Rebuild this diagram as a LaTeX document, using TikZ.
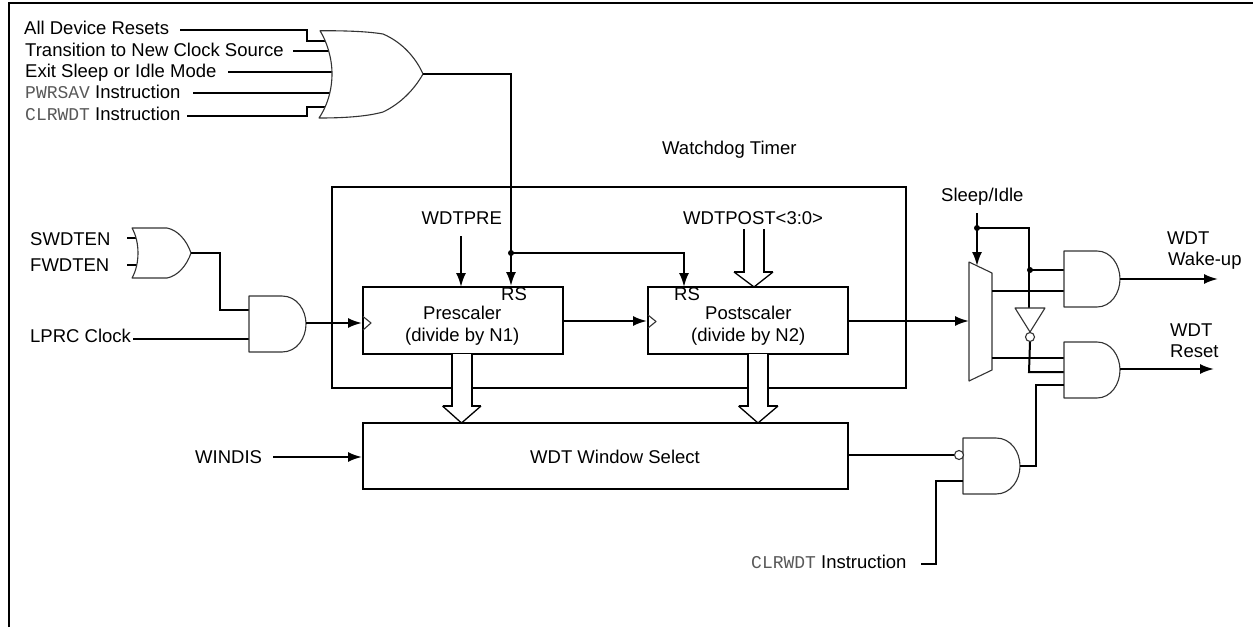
\documentclass[tikz,border=0pt]{standalone}
\usepackage{fontspec}
\setmainfont{Liberation Sans}
\setmonofont{Liberation Mono}
\usetikzlibrary{arrows.meta}
\definecolor{monogray}{gray}{0.35}
\definecolor{gateline}{gray}{0.2}
\newcommand{\cmdtext}[1]{{\fontsize{18}{20}\selectfont\ttfamily\color{monogray}#1}}
\tikzset{
  wire/.style={line width=2pt,line join=miter},
  arrowwire/.style={wire,-{Latex[length=14pt,width=10pt]}},
  box/.style={draw,line width=2pt,inner sep=0pt,minimum width=200pt,minimum height=67pt},
  gate/.style={draw=gateline,line width=1.1pt,fill=white,line join=round},
  bubble/.style={circle,draw=gateline,line width=1.1pt,fill=white,inner sep=0pt,minimum size=9pt},
  lab/.style={anchor=base west,inner sep=0pt,font=\fontsize{18.5}{20}\selectfont},
  dot/.style={circle,fill,inner sep=0pt,minimum size=6pt}
}
\newcommand{\andgate}[4]{%
  \path[gate] (#1,#2) -- ({#1+33},#2) .. controls ({#4-9},#2) and (#4,{#2+14}) .. (#4,{(#2+#3)/2})
     .. controls (#4,{#3-14}) and ({#4-9},#3) .. ({#1+33},#3) -- (#1,#3) -- cycle;}
% wide arrow: left shaft x, right shaft x, head left, tip x, head right, top y, head y, tip y
\newcommand{\widearrow}[8]{%
  \fill[white] (#1,#6) -- (#1,#7) -- (#3,#7) -- (#4,#8) -- (#5,#7) -- (#2,#7) -- (#2,#6) -- cycle;
  \draw[wire] (#1,#6) -- (#1,#7) -- (#3,#7);
  \draw[wire] (#2,#6) -- (#2,#7) -- (#5,#7);
  \draw[line width=1.3pt] (#3,#7) -- (#4,#8) -- (#5,#7);}
\begin{document}
\begin{tikzpicture}[x=1pt,y=-1pt]
\useasboundingbox (0,0) rectangle (1253,627);
\fill[white] (0,0) rectangle (1253,627);
% frame
\coordinate (fbl) at (9,627); \coordinate (ftl) at (9,3); \coordinate (ftr) at (1253,3);
\draw[wire] (fbl) -- (ftl) -- (ftr);

% boxes
\node[box,minimum width=574pt,minimum height=200.5pt] (wdt) at (619,287.5) {};
\node[box] (pre) at (463,320.5) {};
\node[box] (post) at (748,320.5) {};
\node[box,minimum width=485pt,minimum height=66pt] (win) at (605.5,456) {};

% labels
\node[lab] (l1) at (24,34) {All Device Resets};
\node[lab] (l2) at (25,56) {Transition to New Clock Source};
\node[lab] (l3) at (25,77) {Exit Sleep or Idle Mode};
\node[lab] (l4) at (25,98.5) {\cmdtext{PWRSAV} Instruction};
\node[lab] (l5) at (25,120) {\cmdtext{CLRWDT} Instruction};
\node[lab] (wt) at (662,154) {Watchdog Timer};
\node[lab] (sw) at (30,245) {SWDTEN};
\node[lab] (fw) at (30,271.5) {FWDTEN};
\node[lab] (lp) at (30,342.5) {LPRC Clock};
\node[lab] (wp) at (421.5,224) {WDTPRE};
\node[lab] (wo) at (683,224) {WDTPOST<3:0>};
\node[lab] (r1) at (501,300.5) {RS};
\node[lab] (r2) at (674,300.5) {RS};
\node[lab] (p1) at (423,319) {Prescaler};
\node[lab] (p2) at (405,341.5) {(divide by N1)};
\node[lab] (q1) at (705,319) {Postscaler};
\node[lab] (q2) at (691,341.5) {(divide by N2)};
\node[lab] (ws) at (530,463) {WDT Window Select};
\node[lab] (wi) at (195,463) {WINDIS};
\node[lab] (si) at (941,201.5) {Sleep/Idle};
\node[lab] (wu1) at (1167,244) {WDT};
\node[lab] (wu2) at (1168,265) {Wake-up};
\node[lab] (rs1) at (1170,336.5) {WDT};
\node[lab] (rs2) at (1170,357.5) {Reset};
\node[lab] (m1) at (976,296.5) {1};
\node[lab] (m0) at (976,365) {0};
\node[lab] (cl) at (751,568) {\cmdtext{CLRWDT} Instruction};

% ports and free ends
\coordinate (orO) at (423,74);
\coordinate (smOut) at (191,253);
\coordinate (a1O) at (306,323);
\coordinate (a2O) at (1120,279);
\coordinate (a3O) at (1120,369);
\coordinate (a4O) at (1020,466);
\coordinate (jRS) at (511,253);
\coordinate (jS) at (977,228);
\coordinate (jW) at (1030,270);
\coordinate (wuEnd) at (1218,279);
\coordinate (rsEnd) at (1214,369);

% big OR inputs
\draw[wire] (180,30) -- (306.5,30) -- (306.5,41) -- (326,41);
\draw[wire] (293,51) -- (330,51);
\draw[wire] (228,71.5) -- (332,71.5);
\draw[wire] (193,93) -- (331,93);
\draw[wire] (187,115.7) -- (307,115.7) -- (307,107) -- (327,107);
% big OR
\path[gate] (320,30.7) .. controls (327,42) and (332,58) .. (332,74) .. controls (332,92) and (326,108) .. (319,118)
  .. controls (340,118) and (365,117) .. (383,112) .. controls (400,104) and (414,90) .. (orO)
  .. controls (416,58) and (402,42) .. (383,34) .. controls (365,31) and (340,30.7) .. cycle;
% reset net
\draw[wire] (orO) -- (511,74) -- (jRS);
\draw[arrowwire] (jRS) -- (jRS |- pre.north);
\draw[arrowwire] (jRS) -- (684,253) -- (684,287);
\node[dot] (dRS) at (jRS) {};

% small OR
\draw[wire] (127,238) -- (137,238);
\draw[wire] (127,265) -- (137,265);
\path[gate] (132,228) .. controls (136,235) and (138,244) .. (138,253) .. controls (138,262) and (136,271) .. (132,278)
  -- (167,278) .. controls (178,276) and (187,265) .. (smOut) .. controls (187,241) and (178,230) .. (167,228) -- cycle;
\draw[wire] (smOut) -- (220,253) -- (220,310) -- (249,310);
\draw[wire] (lp.base east |- 0,338.7) ++(2,0) -- (249,338.7);
\andgate{249}{296}{352}{306}
\draw[arrowwire] (a1O) -- (a1O -| pre.west);

% clock triangles
\path[gate,fill=none] (363,316.5) -- (371,323) -- (363,330);
\path[gate,fill=none] (648,315) -- (656,321.5) -- (648,328);

\draw[arrowwire] (pre.east |- 0,321) -- (post.west |- 0,321);
\draw[arrowwire] (461,236) -- (461,287);
\draw[arrowwire] (273,457) -- (win.west |- 0,457);

% wide arrows
\widearrow{744}{764}{734}{754}{773}{229}{272}{287}
\widearrow{452}{472}{442.5}{461.5}{481}{354}{406}{423}
\widearrow{748}{768}{738.5}{758}{778}{354}{406}{423}

% mux
\draw[arrowwire] (post.east |- 0,321) -- (969,321);
\path[gate] (969,262) -- (992,273) -- (992,370) -- (969,381) -- cycle;
\draw[arrowwire] (977,213) -- (977,266);
\draw[wire] (jS) -- (1029,228) -- (1029,308);
\node[dot] (dS) at (jS) {};
\draw[wire] (jW) -- (1064,270);
\node[dot] (dW) at (jW) {};
\draw[wire] (992,291) -- (1064,291);
\draw[wire] (992,358) -- (1064,358);
% inverter
\path[gate] (1015,308) -- (1045,308) -- (1030,332) -- cycle;
\node[bubble] (bi) at (1030,337) {};
\draw[wire] (bi.south) -- (1029,372) -- (1064,372);
% and gates
\andgate{1064}{251}{307}{1120}
\andgate{1064}{342}{398}{1120}
\andgate{963}{438}{494}{1020}
\draw[arrowwire] (a2O) -- (wuEnd);
\draw[arrowwire] (a3O) -- (rsEnd);
\draw[wire] (a4O) -- (1036,466) -- (1036,385) -- (1064,385);
% NAND inputs
\node[bubble] (bn) at (959,455) {};
\draw[wire] (win.east |- bn) -- (bn.west);
\draw[wire] (963,481) -- (936,481) -- (936,564) -- (921,564);
\end{tikzpicture}
\end{document}
